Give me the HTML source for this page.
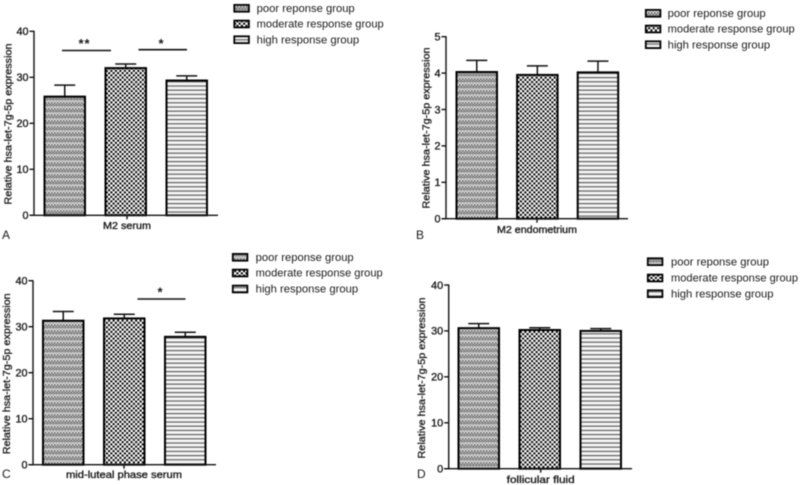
<!DOCTYPE html>
<html>
<head>
<meta charset="utf-8">
<title>Relative hsa-let-7g-5p expression by response group</title>
<style>
html,body{margin:0;padding:0;background:#fff;width:800px;height:485px;overflow:hidden}
svg{display:block;filter:blur(0.45px)}
text{font-family:"Liberation Sans",sans-serif;fill:#1a1a1a}
</style>
</head>
<body>
<svg id="figure" xmlns="http://www.w3.org/2000/svg" width="800" height="485" viewBox="0 0 800 485">
<defs>
<pattern id="pat-poor" width="3" height="6" patternUnits="userSpaceOnUse">
<rect width="3" height="6" fill="#b2b2b2"/>
<rect x="0" y="0" width="1.5" height="1.5" fill="#666"/>
<rect x="1.5" y="1.5" width="1.5" height="1.5" fill="#777"/>
<rect x="1.5" y="0" width="1.5" height="1.5" fill="#e2e2e2"/>
<rect x="0" y="3" width="3" height="1.2" fill="#8c8c8c"/>
<rect x="0" y="4.5" width="1.5" height="1.5" fill="#e6e6e6"/>
</pattern>
<pattern id="pat-moderate" width="4.5" height="4.5" patternUnits="userSpaceOnUse">
<rect width="4.5" height="4.5" fill="#fff"/>
<rect x="0.1" y="0.1" width="2.05" height="2.05" fill="#000"/>
<rect x="2.35" y="2.35" width="2.05" height="2.05" fill="#000"/>
</pattern>
<pattern id="pat-high" width="4.2" height="4.2" patternUnits="userSpaceOnUse">
<rect width="4.2" height="4.2" fill="#f8f8f8"/>
<rect x="0" y="1.3" width="4.2" height="1.4" fill="#6e6e6e"/>
</pattern>
</defs>
</svg>
<script>
// Shared series names and tick labels
const groupNames = ["poor reponse group", "moderate response group", "high response group"];
const ticksFourty = [0, 10, 20, 30, 40];
const ticksFive = [0, 1, 2, 3, 4, 5];

// Values (means and upper error-bar tops)
const panelAMeans = [25.8, 32.0, 29.3];
const panelAErrorTops = [28.3, 32.9, 30.3];
const panelBMeans = [4.03, 3.95, 4.02];
const panelBErrorTops = [4.35, 4.2, 4.33];
const panelCMeans = [31.3, 31.8, 27.8];
const panelCErrorTops = [33.3, 32.7, 28.8];
const panelDMeans = [30.6, 30.2, 30.0];
const panelDErrorTops = [31.6, 30.7, 30.5];

const SVGNS = "http://www.w3.org/2000/svg";
const svg = document.getElementById("figure");
const fills = ["url(#pat-poor)", "url(#pat-moderate)", "url(#pat-high)"];
const groupSlugs = ["poor", "moderate", "high"];
const legendWidths = [98, 127, 102.5];

function mk(tag, parent, attrs, txt) {
  const e = document.createElementNS(SVGNS, tag);
  for (const k in attrs) e.setAttribute(k, attrs[k]);
  if (txt !== undefined) e.textContent = txt;
  parent.appendChild(e);
  return e;
}

const panels = [
  {id:"a", letter:"A", lx:2, ly:239, x0:34, xEnd:218, yTop:31.3, yBase:215.3, max:40, ticks:ticksFourty,
   means:panelAMeans, tops:panelAErrorTops, barStart:44.5, barStep:61, barW:40.5, tickX:127,
   xLabel:"M2 serum", xlX:127, xlY:229, xlW:48, titleX:11.5, titleY:124,
   legSw:233.5, legTx:256.7, legY:[8.3,24,39.7],
   sig:[{x1:62,x2:111,y:50.5,label:"**",sx:84.5,sy:48},{x1:138.5,x2:187,y:49.7,label:"*",sx:161.5,sy:48}]},
  {id:"b", letter:"B", lx:416, ly:239, x0:446, xEnd:628, yTop:36.7, yBase:218.7, max:5, ticks:ticksFive,
   means:panelBMeans, tops:panelBErrorTops, barStart:456.5, barStep:60.6, barW:40.5, tickX:537,
   xLabel:"M2 endometrium", xlX:537, xlY:233, xlW:80, titleX:429.5, titleY:128,
   legSw:645, legTx:667.7, legY:[13.3,29,44.7], sig:[]},
  {id:"c", letter:"C", lx:2, ly:478, x0:33, xEnd:216, yTop:280.7, yBase:464.7, max:40, ticks:ticksFourty,
   means:panelCMeans, tops:panelCErrorTops, barStart:43, barStep:61, barW:40.5, tickX:124,
   xLabel:"mid-luteal phase serum", xlX:124, xlY:478, xlW:116, titleX:10, titleY:373.8,
   legSw:232, legTx:255.7, legY:[257.3,273,289],
   sig:[{x1:137.5,x2:185.5,y:299,label:"*",sx:160.5,sy:296.5}]},
  {id:"d", letter:"D", lx:417, ly:478, x0:448.7, xEnd:632, yTop:285, yBase:468.7, max:40, ticks:ticksFourty,
   means:panelDMeans, tops:panelDErrorTops, barStart:458.5, barStep:61, barW:40.5, tickX:540.7,
   xLabel:"follicular fluid", xlX:540.7, xlY:483, xlW:68, titleX:425, titleY:378,
   legSw:647, legTx:671, legY:[261.7,278,293.7], sig:[]}
];

panels.forEach(function (p) {
  const g = mk("g", svg, {});
  
  
  const yScale = function (v) { return p.yBase - (v / p.max) * (p.yBase - p.yTop); };

  // bars and error bars
  p.means.forEach(function (m, i) {
    const x = p.barStart + i * p.barStep;
    const cx = x + p.barW / 2;
    const errY = yScale(p.tops[i]);
    const barY = yScale(m);
    const stem = mk("line", g, {x1:cx, x2:cx, y1:errY, y2:barY, stroke:"#111", "stroke-width":1.5});
    
    
    const cap = mk("line", g, {x1:cx - 10.5, x2:cx + 10.5, y1:errY, y2:errY, stroke:"#111", "stroke-width":1.5});
    
    
    const bar = mk("rect", g, {x:x, y:barY, width:p.barW, height:p.yBase - barY, fill:fills[i], stroke:"#000", "stroke-width":2});
    
    
  });

  // axes
  const yAxis = mk("line", g, {x1:p.x0, x2:p.x0, y1:p.yTop - 0.6, y2:p.yBase + 0.6, stroke:"#111", "stroke-width":1.4});
  
  
  const xAxis = mk("line", g, {x1:p.x0 - 4.5, x2:p.xEnd, y1:p.yBase, y2:p.yBase, stroke:"#111", "stroke-width":1.4});
  
  
  const xTick = mk("line", g, {x1:p.tickX, x2:p.tickX, y1:p.yBase, y2:p.yBase + 4, stroke:"#111", "stroke-width":1.4});
  
  

  p.ticks.forEach(function (t) {
    const y = yScale(t);
    const tick = mk("line", g, {x1:p.x0 - 4.5, x2:p.x0, y1:y, y2:y, stroke:"#111", "stroke-width":1.4});
    
    
    const lab = mk("text", g, {x:p.x0 - 5.5, y:y + 3.8, "text-anchor":"end", "font-size":10.8, stroke:"#1a1a1a", "stroke-width":0.35}, String(t));
    
    
  });

  // axis titles
  const yTitle = mk("text", g, {x:0, y:0, transform:"translate(" + p.titleX + "," + p.titleY + ") rotate(-90)", "text-anchor":"middle",
    "font-size":10, textLength:161, lengthAdjust:"spacingAndGlyphs", stroke:"#1a1a1a", "stroke-width":0.3}, "Relative hsa-let-7g-5p expression");
  
  
  const xTitle = mk("text", g, {x:p.xlX, y:p.xlY, "text-anchor":"middle", "font-size":10, textLength:p.xlW, lengthAdjust:"spacingAndGlyphs",
    stroke:"#1a1a1a", "stroke-width":0.35}, p.xLabel);
  
  

  // panel letter
  const letter = mk("text", g, {x:p.lx, y:p.ly, "font-size":12, fill:"#333"}, p.letter);
  
  

  // legend
  groupNames.forEach(function (name, i) {
    const cy = p.legY[i];
    const sw = mk("rect", g, {x:p.legSw + 0.8, y:cy - 3.4, width:14.6, height:6.8, fill:fills[i], stroke:"#000", "stroke-width":1.8});
    
    
    const tx = mk("text", g, {x:p.legTx, y:cy + 3.6, "font-size":10.8, fill:"#3a3a3a", textLength:legendWidths[i], lengthAdjust:"spacingAndGlyphs"}, name);
    
    
  });

  // significance markers
  p.sig.forEach(function (s) {
    const bracket = mk("line", g, {x1:s.x1, x2:s.x2, y1:s.y, y2:s.y, stroke:"#111", "stroke-width":1.6});
    
    
    const star = mk("text", g, {x:s.sx, y:s.sy, "text-anchor":"middle", "font-size":13, "font-weight":"bold", "letter-spacing":"1"}, s.label);
    
    
  });
});
</script>
</body>
</html>
